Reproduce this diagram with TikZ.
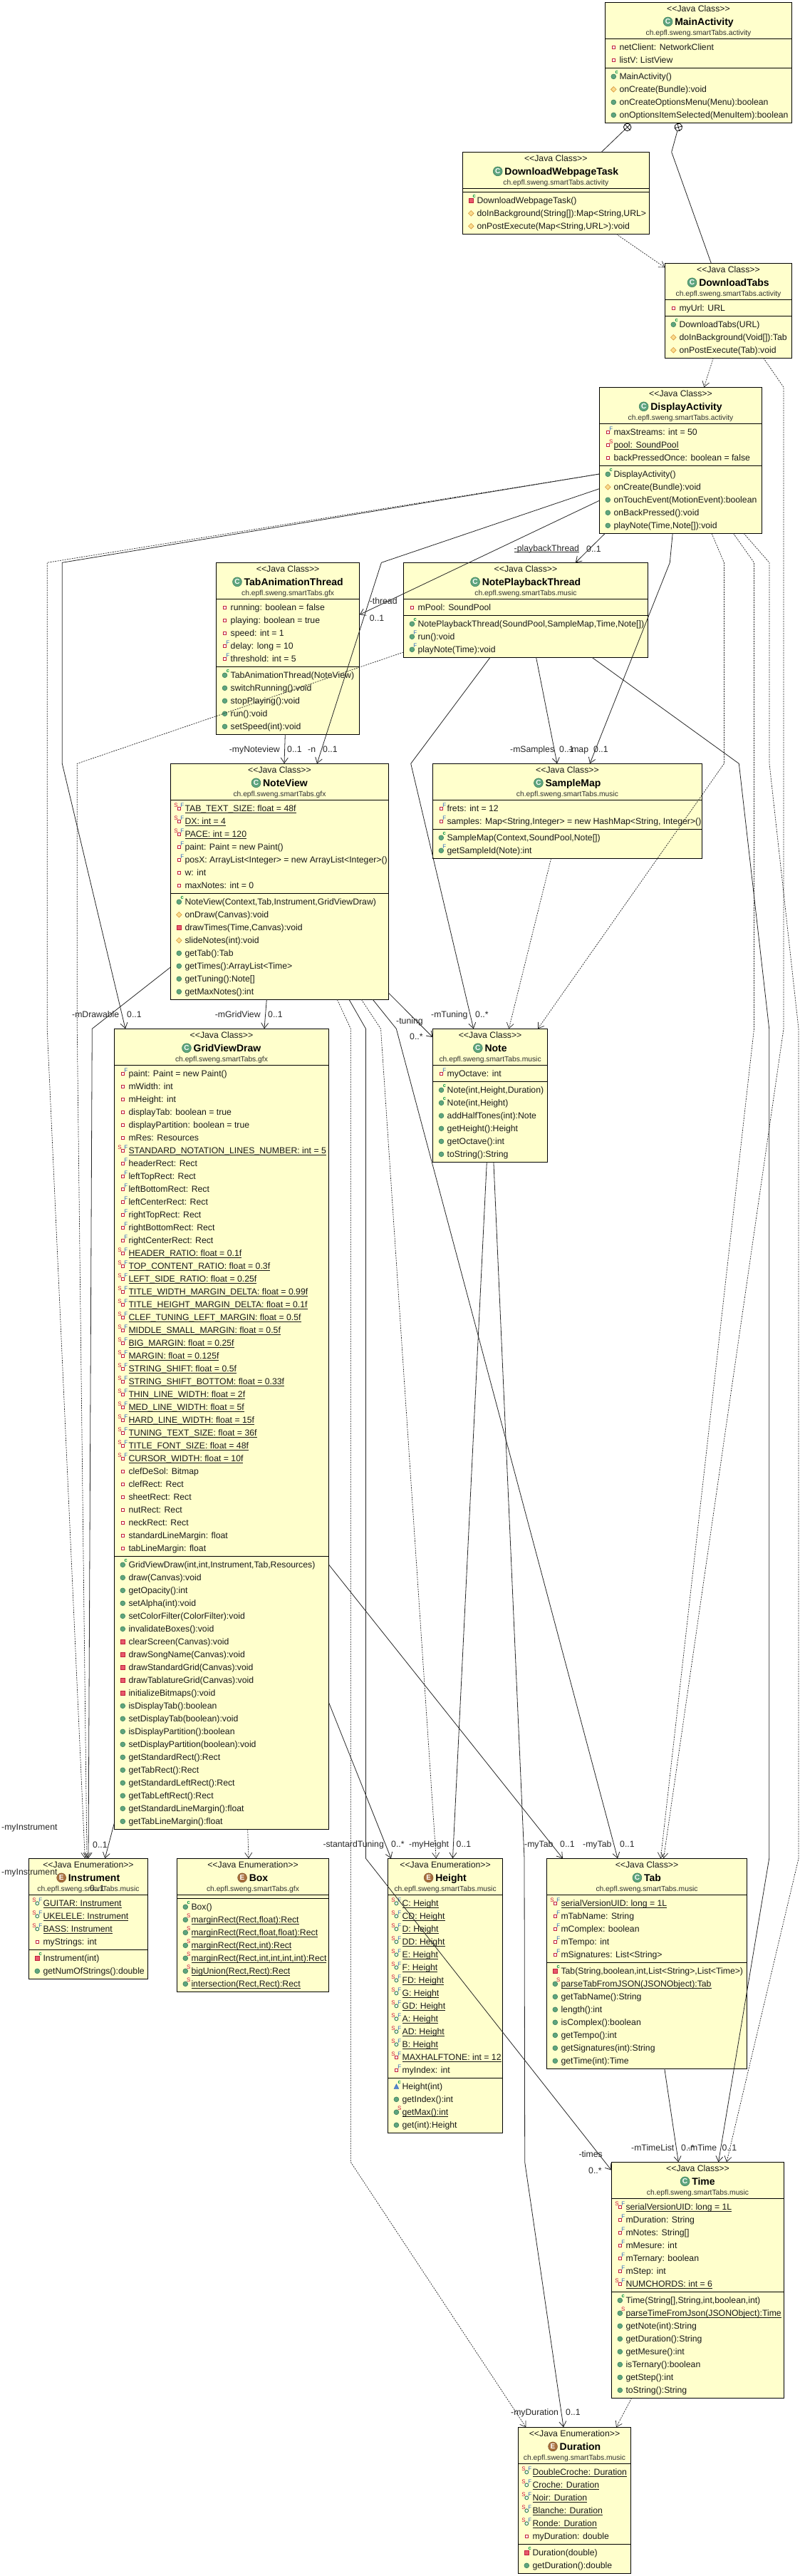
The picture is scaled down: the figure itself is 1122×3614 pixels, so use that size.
\documentclass[tikz,border=0pt]{standalone}
\usepackage{fontspec}
\setmainfont{Liberation Sans}
\usetikzlibrary{arrows.meta}
\definecolor{boxyellow}{HTML}{FFFFCC}
\definecolor{dotgreen}{HTML}{5FA57F}
\definecolor{dotedge}{HTML}{3C8059}
\definecolor{privred}{HTML}{E8596B}
\definecolor{privedge}{HTML}{C01F3C}
\definecolor{protfill}{HTML}{F9DC8C}
\definecolor{protedge}{HTML}{D9953A}
\definecolor{markF}{HTML}{2F68C0}
\definecolor{markS}{HTML}{D0103A}
\definecolor{markC}{HTML}{009040}
\definecolor{enumbrown}{HTML}{A8703E}
\definecolor{pkggray}{HTML}{303030}

\tikzset{
  letterF/.style={font=\fontsize{8}{8}\selectfont,text=markF,inner sep=0},
  letterS/.style={font=\fontsize{8}{8}\selectfont,text=markS,inner sep=0},
  letterC/.style={font=\bfseries\fontsize{7.5}{8}\selectfont,text=markC,inner sep=0},
  cmark/.pic={\draw[dotedge,fill=dotgreen,line width=.6pt] (0,0) circle (6.4);
    \node[font=\bfseries\fontsize{10}{10}\selectfont,text=white,inner sep=0] (-m) at (0,0) {C};},
  emark/.pic={\draw[enumbrown!80!black,fill=enumbrown,line width=.6pt] (0,0) circle (6.4);
    \node[font=\bfseries\fontsize{10}{10}\selectfont,text=white,inner sep=0] (-m) at (0,0) {E};},
  fp/.pic={\draw[privedge,fill=white,line width=1pt] (-2,-2) rectangle (2,2);},
  ff/.pic={\draw[privedge,fill=white,line width=1pt] (-2,-2) rectangle (2,2);
    \node[letterF] (-F) at (4.4,-5) {F};},
  fs/.pic={\draw[privedge,fill=white,line width=1pt] (-2,-2) rectangle (2,2);
    \node[letterS] (-S) at (4.4,-5) {S};},
  sf/.pic={\draw[privedge,fill=white,line width=1pt] (-2,-2) rectangle (2,2);
    \node[letterS] (-S) at (-4.3,-4.6) {S}; \node[letterF] (-F) at (4.4,-5) {F};},
  se/.pic={\draw[dotedge,fill=white,line width=1pt] (0,0) circle (2.4);
    \node[letterS] (-S) at (-4.3,-4.6) {S}; \node[letterF] (-F) at (4.4,-5) {F};},
  m/.pic={\draw[dotedge,fill=dotgreen,line width=.6pt] (0,0) circle (3.4);},
  mc/.pic={\draw[dotedge,fill=dotgreen,line width=.6pt] (0,0) circle (3.4);
    \node[letterC] (-C) at (4.4,-5.5) {c};},
  mF/.pic={\draw[dotedge,fill=dotgreen,line width=.6pt] (0,0) circle (3.4);
    \node[letterF] (-F) at (4.4,-5.5) {F};},
  mS/.pic={\draw[dotedge,fill=dotgreen,line width=.6pt] (0,0) circle (3.4);
    \node[letterS] (-S) at (4.4,-5.5) {S};},
  mp/.pic={\draw[protedge,fill=protfill,line width=.6pt] (-3.8,0) -- (0,-3.8) -- (3.8,0) -- (0,3.8) -- cycle;},
  mr/.pic={\draw[privedge,fill=privred,line width=.6pt] (-3.2,-3.2) rectangle (3.2,3.2);},
  mC/.pic={\draw[privedge,fill=privred,line width=.6pt] (-3.2,-3.2) rectangle (3.2,3.2);
    \node[letterC] (-C) at (4.4,-5.5) {c};},
  mP/.pic={\draw[markF,fill=markF!80,line width=.6pt] (-3.2,3) -- (3.2,3) -- (0,-3.4) -- cycle;
    \node[letterC] (-C) at (4.4,-5.5) {c};},
}

\def\statsf{}\def\statse{}\def\statfs{}\def\statmS{}
\newcommand{\stat}[1]{\setbox0\hbox{#1}\rlap{\rule[-2pt]{\wd0}{.7pt}}\box0}
\newcommand{\rowcount}[2]{\gdef#1{0}\foreach \ic/\tx [count=\n] in {#2} {\xdef#1{\n}}}
\newcommand{\rowlist}[4]{%
  \foreach \ic/\tx [count=\n] in {#4} {
    \pgfmathsetmacro\ya{#2+12+18*(\n-1)}
    \pgfmathsetmacro\yb{#2+15.9+18*(\n-1)}
    \pic (#1_#3\n) at ([xshift=12pt,yshift=-\ya pt]#1.north west) {\ic};
    \node[rowtext] (#1_#3t\n) at ([xshift=20pt,yshift=-\yb pt]#1.north west)
      {\ifcsname stat\ic\endcsname\stat{\tx}\else\tx\fi};
  }}
\newcommand{\umlclass}[8]{%
  \rowcount{\nattr}{#7}\rowcount{\nmeth}{#8}
  \pgfmathsetmacro\ysep{56+18*\nattr}
  \pgfmathsetmacro\ytot{\ysep+5+18*\nmeth}
  \node[classbox,minimum width=#3pt,minimum height=\ytot pt] (#1) at (#2) {};
  \draw[classline] ([yshift=-51pt]#1.north west) -- ([yshift=-51pt]#1.north east);
  \draw[classline] ([yshift=-\ysep pt]#1.north west) -- ([yshift=-\ysep pt]#1.north east);
  \node[rowtext,anchor=base] (#1_kind) at ([yshift=-13.2pt]#1.north) {<{}<Java #4>{}>};
  \node[titletext] (#1_title) at ([yshift=-31.8pt]#1.north) {\hspace*{16pt}#1};
  \pic (#1_mark) at ([xshift=6.5pt,yshift=4.8pt]#1_title.base west) {#5};
  \node[pkgtext] (#1_pkg) at ([yshift=-46pt]#1.north) {ch.epfl.sweng.smartTabs.#6};
  \rowlist{#1}{51}{a}{#7}
  \rowlist{#1}{\ysep}{m}{#8}
}

\begin{document}
\begin{tikzpicture}[x=1pt,y=-1pt,>={Straight Barb[length=7.5pt,width=10pt]},
  font=\fontsize{12.25}{14}\selectfont]
  \tikzstyle{classbox}=[draw=black,fill=boxyellow,line width=.9pt,rectangle,anchor=north west,inner sep=0,outer sep=0]
  \tikzstyle{classline}=[black,line width=.9pt]
  \tikzstyle{rowtext}=[anchor=base west,inner sep=0,text=black!90]
  \tikzstyle{titletext}=[anchor=base,inner sep=0,font=\bfseries\fontsize{14}{16}\selectfont]
  \tikzstyle{pkgtext}=[anchor=base,inner sep=0,text=pkggray,font=\fontsize{10.3}{12}\selectfont]
  \tikzstyle{endlabel}=[anchor=base west,inner sep=0,text=black!85]
  \tikzstyle{assoc}=[->,black!85,line width=.8pt]
  \tikzstyle{depend}=[->,black!85,line width=.7pt,dash pattern=on 2pt off 1.4pt]
  \tikzstyle{nest}=[draw=black,fill=white,circle,inner sep=0,outer sep=0,minimum size=10.6pt,line width=.8pt]
  \useasboundingbox (0,0) rectangle (1122,3614);

  \umlclass{MainActivity}{849.3,3.4}{262.4}{Class}{cmark}{activity}
    {fp/netClient: NetworkClient,fp/listV: ListView}
    {mc/MainActivity(),mp/onCreate(Bundle):void,m/onCreateOptionsMenu(Menu):boolean,m/onOptionsItemSelected(MenuItem):boolean}
  \umlclass{DownloadWebpageTask}{649.3,213.3}{262}{Class}{cmark}{activity}
    {}
    {mC/DownloadWebpageTask(),mp/{doInBackground(String[]):Map<String,URL>},mp/{onPostExecute(Map<String,URL>):void}}
  \umlclass{DownloadTabs}{933.3,369.3}{178.4}{Class}{cmark}{activity}
    {fp/myUrl: URL}
    {mc/DownloadTabs(URL),mp/doInBackground(Void[]):Tab,mp/onPostExecute(Tab):void}
  \umlclass{DisplayActivity}{841.3,543.3}{228.4}{Class}{cmark}{activity}
    {ff/maxStreams: int = 50,fs/pool: SoundPool,fp/backPressedOnce: boolean = false}
    {mc/DisplayActivity(),mp/onCreate(Bundle):void,m/onTouchEvent(MotionEvent):boolean,m/onBackPressed():void,m/{playNote(Time,Note[]):void}}
  \umlclass{TabAnimationThread}{303.5,789.3}{201.3}{Class}{cmark}{gfx}
    {fp/running: boolean = false,fp/playing: boolean = true,fp/speed: int = 1,ff/delay: long = 10,ff/threshold: int = 5}
    {mc/TabAnimationThread(NoteView),m/switchRunning():void,m/stopPlaying():void,m/run():void,m/setSpeed(int):void}
  \umlclass{NotePlaybackThread}{566.4,789.3}{343.2}{Class}{cmark}{music}
    {fp/mPool: SoundPool}
    {mc/{NotePlaybackThread(SoundPool,SampleMap,Time,Note[])},mF/run():void,mF/playNote(Time):void}
  \umlclass{NoteView}{239.3,1071.3}{306.4}{Class}{cmark}{gfx}
    {sf/TAB\_TEXT\_SIZE: float = 48f,sf/DX: int = 4,sf/PACE: int = 120,ff/paint: Paint = new Paint(),ff/posX: ArrayList<Integer> = new ArrayList<Integer>(),fp/w: int,fp/maxNotes: int = 0}
    {mc/{NoteView(Context,Tab,Instrument,GridViewDraw)},mp/onDraw(Canvas):void,mr/{drawTimes(Time,Canvas):void},mp/slideNotes(int):void,m/getTab():Tab,m/getTimes():ArrayList<Time>,m/getTuning():Note[],m/getMaxNotes():int}
  \umlclass{SampleMap}{607.3,1071.3}{378.4}{Class}{cmark}{music}
    {ff/frets: int = 12,ff/{samples: Map<String,Integer> = new HashMap<String, Integer>()}}
    {mc/{SampleMap(Context,SoundPool,Note[])},mF/getSampleId(Note):int}
  \umlclass{GridViewDraw}{160.3,1443.3}{301.4}{Class}{cmark}{gfx}
    {ff/paint: Paint = new Paint(),fp/mWidth: int,fp/mHeight: int,fp/displayTab: boolean = true,fp/displayPartition: boolean = true,fp/mRes: Resources,
     sf/STANDARD\_NOTATION\_LINES\_NUMBER: int = 5,ff/headerRect: Rect,ff/leftTopRect: Rect,ff/leftBottomRect: Rect,ff/leftCenterRect: Rect,ff/rightTopRect: Rect,ff/rightBottomRect: Rect,ff/rightCenterRect: Rect,
     sf/HEADER\_RATIO: float = 0.1f,sf/TOP\_CONTENT\_RATIO: float = 0.3f,sf/LEFT\_SIDE\_RATIO: float = 0.25f,sf/TITLE\_WIDTH\_MARGIN\_DELTA: float = 0.99f,sf/TITLE\_HEIGHT\_MARGIN\_DELTA: float = 0.1f,sf/CLEF\_TUNING\_LEFT\_MARGIN: float = 0.5f,
     sf/MIDDLE\_SMALL\_MARGIN: float = 0.5f,sf/BIG\_MARGIN: float = 0.25f,sf/MARGIN: float = 0.125f,sf/STRING\_SHIFT: float = 0.5f,sf/STRING\_SHIFT\_BOTTOM: float = 0.33f,sf/THIN\_LINE\_WIDTH: float = 2f,sf/MED\_LINE\_WIDTH: float = 5f,
     sf/HARD\_LINE\_WIDTH: float = 15f,sf/TUNING\_TEXT\_SIZE: float = 36f,sf/TITLE\_FONT\_SIZE: float = 48f,sf/CURSOR\_WIDTH: float = 10f,
     fp/clefDeSol: Bitmap,fp/clefRect: Rect,fp/sheetRect: Rect,fp/nutRect: Rect,fp/neckRect: Rect,fp/standardLineMargin: float,fp/tabLineMargin: float}
    {mc/{GridViewDraw(int,int,Instrument,Tab,Resources)},m/draw(Canvas):void,m/getOpacity():int,m/setAlpha(int):void,m/setColorFilter(ColorFilter):void,m/invalidateBoxes():void,
     mr/clearScreen(Canvas):void,mr/drawSongName(Canvas):void,mr/drawStandardGrid(Canvas):void,mr/drawTablatureGrid(Canvas):void,mr/initializeBitmaps():void,
     m/isDisplayTab():boolean,m/setDisplayTab(boolean):void,m/isDisplayPartition():boolean,m/setDisplayPartition(boolean):void,m/getStandardRect():Rect,m/getTabRect():Rect,m/getStandardLeftRect():Rect,m/getTabLeftRect():Rect,m/getStandardLineMargin():float,m/getTabLineMargin():float}
  \umlclass{Note}{607.5,1443.3}{161.2}{Class}{cmark}{music}
    {ff/myOctave: int}
    {mc/{Note(int,Height,Duration)},mc/{Note(int,Height)},m/addHalfTones(int):Note,m/getHeight():Height,m/getOctave():int,m/toString():String}
  \umlclass{Instrument}{40.3,2607.3}{167.4}{Enumeration}{emark}{music}
    {se/GUITAR: Instrument,se/UKELELE: Instrument,se/BASS: Instrument,fp/myStrings: int}
    {mC/Instrument(int),m/getNumOfStrings():double}
  \umlclass{Box}{248.3,2607.3}{213.4}{Enumeration}{emark}{gfx}
    {}
    {mc/Box(),mS/{marginRect(Rect,float):Rect},mS/{marginRect(Rect,float,float):Rect},mS/{marginRect(Rect,int):Rect},mS/{marginRect(Rect,int,int,int,int):Rect},mS/{bigUnion(Rect,Rect):Rect},mS/{intersection(Rect,Rect):Rect}}
  \umlclass{Height}{544.4,2607.3}{161.4}{Enumeration}{emark}{music}
    {se/C: Height,se/CD: Height,se/D: Height,se/DD: Height,se/E: Height,se/F: Height,se/FD: Height,se/G: Height,se/GD: Height,se/A: Height,se/AD: Height,se/B: Height,sf/MAXHALFTONE: int = 12,ff/myIndex: int}
    {mP/Height(int),m/getIndex():int,mS/getMax():int,m/get(int):Height}
  \umlclass{Tab}{767.3,2607.3}{281.5}{Class}{cmark}{music}
    {sf/serialVersionUID: long = 1L,ff/mTabName: String,ff/mComplex: boolean,ff/mTempo: int,ff/mSignatures: List<String>}
    {mC/{Tab(String,boolean,int,List<String>,List<Time>)},mS/parseTabFromJSON(JSONObject):Tab,m/getTabName():String,m/length():int,m/isComplex():boolean,m/getTempo():int,m/getSignatures(int):String,m/getTime(int):Time}
  \umlclass{Time}{858.3,3033.3}{242.4}{Class}{cmark}{music}
    {sf/serialVersionUID: long = 1L,ff/mDuration: String,ff/mNotes: String[],ff/mMesure: int,ff/mTernary: boolean,ff/mStep: int,sf/NUMCHORDS: int = 6}
    {mc/{Time(String[],String,int,boolean,int)},mS/parseTimeFromJson(JSONObject):Time,m/getNote(int):String,m/getDuration():String,m/getMesure():int,m/isTernary():boolean,m/getStep():int,m/toString():String}
  \umlclass{Duration}{727.3,3405.3}{158.4}{Enumeration}{emark}{music}
    {se/DoubleCroche: Duration,se/Croche: Duration,se/Noir: Duration,se/Blanche: Duration,se/Ronde: Duration,fp/myDuration: double}
    {mC/Duration(double),m/getDuration():double}

  \node[nest,rotate=42] (nest_1) at (880.7,178.4) {};
  \node[nest,rotate=15] (nest_2) at (952.3,178.4) {};
  \draw[line width=.7pt] (nest_1.north) -- (nest_1.south) (nest_1.east) -- (nest_1.west);
  \draw[line width=.7pt] (nest_2.north) -- (nest_2.south) (nest_2.east) -- (nest_2.west);
  \draw[black!85,line width=.8pt] (nest_1) -- ([xshift=195pt]DownloadWebpageTask.north west);
  \draw[black!85,line width=.8pt] (nest_2) -- (942.7,213.3) -- ([xshift=65pt]DownloadTabs.north west);

  \draw[depend] ([xshift=215.7pt]DownloadWebpageTask.south west) -- ([yshift=-6pt]DownloadTabs.north west);
  \draw[depend] ([xshift=68pt]DownloadTabs.south west) -- ([xshift=147pt]DisplayActivity.north west);
  \draw[depend] ([xshift=138.4pt]DownloadTabs.south west) -- (1100,543.3) -- (1100,1443.3) -- ([xshift=164.2pt]Tab.north west);

  \draw[depend] ([xshift=157.7pt]DisplayActivity.south west) -- (1016.4,789.3) -- (1016.4,1071.3) -- ([xshift=147.5pt]Note.north west);
  \draw[depend] ([xshift=188.1pt]DisplayActivity.south west) -- (1058.5,789.3) -- (1058.5,1443.3) -- ([xshift=160.1pt]Tab.north west);
  \draw[depend] ([xshift=202.7pt]DisplayActivity.south west) -- (1080,789.3) -- (1080,1071.3) -- (1121,1443.3) -- (1121,2607.3) -- ([xshift=161.7pt]Time.north west);
  \draw[depend] ([yshift=-121.7pt]DisplayActivity.north west) -- (66.2,789.3) -- (66.2,1443.3) -- ([xshift=79pt]Instrument.north west);
  \draw[assoc] ([yshift=-121.7pt]DisplayActivity.north west) -- (87.3,789.3) -- (87.3,1071.3) -- ([xshift=15.7pt]GridViewDraw.north west);
  \draw[assoc] ([yshift=-159pt]DisplayActivity.north west) -- ([yshift=-73pt]TabAnimationThread.north east);
  \draw[assoc] ([yshift=-142.4pt]DisplayActivity.north west) -- (535.4,789.3) -- ([xshift=205.7pt]NoteView.north west);
  \draw[assoc] ([xshift=8.1pt]DisplayActivity.south west) -- ([xshift=241.5pt]NotePlaybackThread.north west);
  \draw[assoc] ([xshift=102.9pt]DisplayActivity.south west) -- (940.3,789.3) -- ([xshift=220.7pt]SampleMap.north west);

  \draw[assoc] ([xshift=96.8pt]TabAnimationThread.south west) -- ([xshift=159.7pt]NoteView.north west);

  \draw[depend] ([yshift=-125.7pt]NotePlaybackThread.north west) -- (108.3,1071.3) -- (108.3,1443.3) -- ([xshift=81.7pt]Instrument.north west);
  \draw[assoc] ([xshift=121.7pt]NotePlaybackThread.south west) -- (576.7,1071.3) -- ([xshift=57.2pt]Note.north west);
  \draw[assoc] ([xshift=186.2pt]NotePlaybackThread.south west) -- ([xshift=174.7pt]SampleMap.north west);
  \draw[assoc] ([xshift=264.6pt]NotePlaybackThread.south west) -- (1037.3,1071.3) -- (1079.7,1443.3) -- (1079.7,2607.3) -- ([xshift=150.2pt]Time.north west);

  \draw[depend] ([xshift=166.3pt]SampleMap.south west) -- ([xshift=106.8pt]Note.north west);

  \draw[assoc] ([xshift=135pt]NoteView.south west) -- ([xshift=210.7pt]GridViewDraw.north west);
  \draw[assoc] ([yshift=-285.7pt]NoteView.north west) -- (129.3,1443.3) -- ([xshift=83.7pt]Instrument.north west);
  \draw[assoc] ([yshift=-322pt]NoteView.north east) -- ([yshift=-12pt]Note.north west);
  \draw[depend] ([xshift=234pt]NoteView.south west) -- (492.3,1443.3) -- (492.3,3033.3) -- ([xshift=11pt]Duration.north west);
  \draw[assoc] ([xshift=250.7pt]NoteView.south west) -- (513.5,1443.3) -- (513.5,2607.3) -- ([yshift=-11.4pt]Time.north west);
  \draw[depend] ([xshift=268pt]NoteView.south west) -- (534.5,1443.3) -- ([xshift=67.8pt]Height.north west);
  \draw[assoc] ([xshift=284pt]NoteView.south west) -- (556.3,1443.3) -- ([xshift=99.7pt]Tab.north west);

  \draw[assoc] ([yshift=-1114.7pt]GridViewDraw.north west) -- ([xshift=107pt]Instrument.north west);
  \draw[depend] ([xshift=187.4pt]GridViewDraw.south west) -- ([xshift=100.7pt]Box.north west);
  \draw[assoc] ([yshift=-752pt]GridViewDraw.north east) -- ([xshift=22.7pt]Tab.north west);
  \draw[assoc] ([yshift=-945.7pt]GridViewDraw.north east) -- ([xshift=4.6pt]Height.north west);

  \draw[assoc] ([xshift=75.8pt]Note.south west) -- ([xshift=91.1pt]Height.north west);
  \draw[assoc] ([xshift=85.4pt]Note.south west) -- (736,2607.3) -- (736.7,3033.3) -- ([xshift=63.7pt]Duration.north west);
  \draw[assoc] ([xshift=165.5pt]Tab.south west) -- ([xshift=94pt]Time.north west);
  \draw[depend] ([xshift=28.4pt]Time.south west) -- ([xshift=137.7pt]Duration.north west);

  \node[endlabel] (L_thread) at (518.6,847.6) {-thread};
  \node[endlabel] (M_thread) at (518.6,871) {0..1};
  \node[endlabel] (L_playback) at (721.5,773) {\stat{-playbackThread}};
  \node[endlabel] (M_playback) at (823,774) {0..1};
  \node[endlabel] (L_noteview) at (321.7,1055) {-myNoteview};
  \node[endlabel] (M_noteview) at (403,1055) {0..1};
  \node[endlabel] (L_n) at (432,1055) {-n};
  \node[endlabel] (M_n) at (453,1055) {0..1};
  \node[endlabel] (L_samples) at (716,1055) {-mSamples};
  \node[endlabel] (M_samples) at (785,1055) {0..1};
  \node[endlabel] (L_map) at (798,1055) {-map};
  \node[endlabel] (M_map) at (833,1055) {0..1};
  \node[endlabel] (L_drawable) at (101,1427) {-mDrawable};
  \node[endlabel] (M_drawable) at (178,1427) {0..1};
  \node[endlabel] (L_gridview) at (301.7,1427) {-mGridView};
  \node[endlabel] (M_gridview) at (376,1427) {0..1};
  \node[endlabel] (L_tuning) at (556,1436) {-tuning};
  \node[endlabel] (M_tuning) at (575,1458) {0..*};
  \node[endlabel] (L_mtuning) at (605,1427) {-mTuning};
  \node[endlabel] (M_mtuning) at (667,1427) {0..*};
  \node[endlabel] (L_instr_a) at (2,2567) {-myInstrument};
  \node[endlabel] (M_instr_a) at (130,2592) {0..1};
  \node[endlabel] (L_instr_b) at (2,2630) {-myInstrument};
  \node[endlabel] (M_instr_b) at (126,2653) {0..1};
  \node[endlabel] (L_stuning) at (453.3,2591) {-stantardTuning};
  \node[endlabel] (M_stuning) at (549,2591) {0..*};
  \node[endlabel] (L_height) at (574,2591) {-myHeight};
  \node[endlabel] (M_height) at (640.5,2591) {0..1};
  \node[endlabel] (L_tab_a) at (736,2591) {-myTab};
  \node[endlabel] (M_tab_a) at (786,2591) {0..1};
  \node[endlabel] (L_tab_b) at (818,2591) {-myTab};
  \node[endlabel] (M_tab_b) at (870,2591) {0..1};
  \node[endlabel] (L_times) at (812.3,3026) {-times};
  \node[endlabel] (M_times) at (826,3049) {0..*};
  \node[endlabel] (L_timelist) at (886,3017) {-mTimeList};
  \node[endlabel] (M_timelist) at (956,3017) {0..*};
  \node[endlabel] (L_mtime) at (964.8,3017) {-mTime};
  \node[endlabel] (M_mtime) at (1013.5,3017) {0..1};
  \node[endlabel] (L_duration) at (717,3388.7) {-myDuration};
  \node[endlabel] (M_duration) at (794,3388.7) {0..1};
\end{tikzpicture}
\end{document}
